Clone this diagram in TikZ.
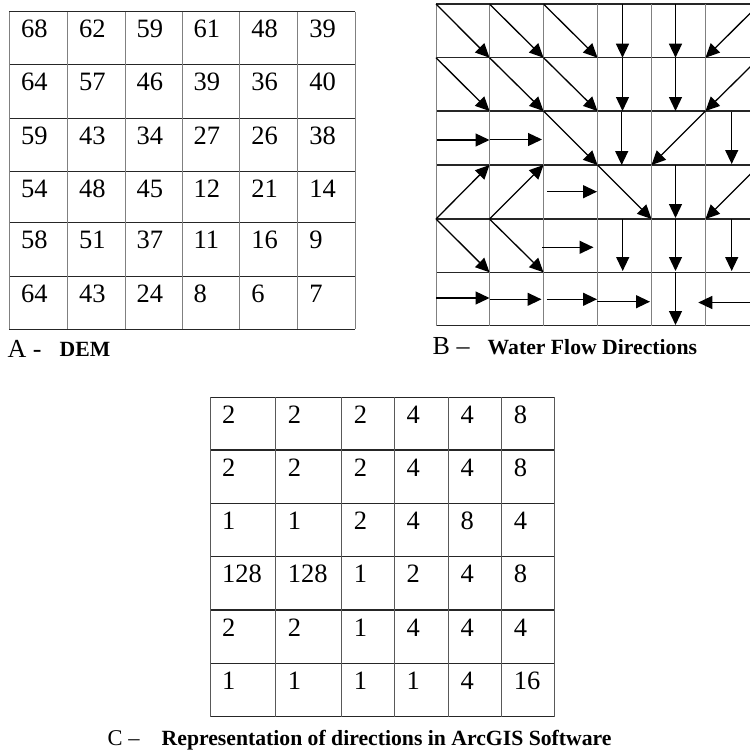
\documentclass[tikz,border=0pt]{standalone}
\usepackage{fontspec}
\setmainfont{Liberation Serif}
\usetikzlibrary{arrows.meta}
\begin{document}
\begin{tikzpicture}[x=1pt,y=-1pt,
  hline/.style={draw=black!85, line width=1.1pt},
  vline/.style={draw=black!50, line width=0.9pt},
  num/.style={anchor=base west, inner sep=0pt, font=\fontsize{26.5}{30}\selectfont},
  lbl/.style={anchor=base west, inner sep=0pt, font=\fontsize{26}{30}\selectfont},
  lblc/.style={anchor=base west, inner sep=0pt, font=\fontsize{22.5}{27}\selectfont},
  captxt/.style={anchor=base west, inner sep=0pt, font=\fontsize{21.7}{26}\selectfont\bfseries},
  flow/.style={line width=1.3pt, -{Triangle[length=14pt,width=13pt]}}]
\useasboundingbox (0,0) rectangle (750,753);

% ---------- Grid A : DEM ----------
\foreach \y in {11.7,64.3,118.3,171.7,222.7,276.3,329.3}
  \draw[hline] (9.3,\y) -- (355,\y);
\foreach \x in {9.3,67.3,125,182,239.7,297.7,355}
  \draw[vline] (\x,11.7) -- (\x,329.3);
\foreach \row [count=\r] in {{68,62,59,61,48,39},{64,57,46,39,36,40},{59,43,34,27,26,38},{54,48,45,12,21,14},{58,51,37,11,16,9},{64,43,24,8,6,7}} {
  \foreach \v [count=\c] in \row {
    \pgfmathsetmacro{\xx}{{9.3,67.3,125,182,239.7,297.7}[\c-1]+11.5}
    \pgfmathsetmacro{\yy}{{11.7,64.3,118.3,171.7,222.7,276.3}[\r-1]+26}
    \node[num] (a-\r-\c) at (\xx,\yy) {\v};
  }
}
\node[lbl] (labA) at (7.5,357) {A -};
\node[captxt] (capA) at (59.5,356) {DEM};

% ---------- Grid B : flow directions ----------
\foreach \y in {4,57.7,111,165,219,272.3,325.7}
  \draw[hline] (436,\y) -- (760,\y);
\foreach \x in {436,489.5,543.5,597.5,651.5,705.5}
  \draw[vline] (\x,4) -- (\x,325.7);
\foreach \yv [count=\i from 0] in {4,57.7,111,165,219,272.3,325.7}
  \foreach \xv [count=\j from 0] in {436,489.5,543.5,597.5,651.5,705.5,759.5}
    \coordinate (b-\i-\j) at (\xv,\yv);

% row 1
\draw[flow] (b-0-0) -- (b-1-1);
\draw[flow] (b-0-1) -- (b-1-2);
\draw[flow] (b-0-2) -- (b-1-3);
\draw[flow] (622.5,4) -- (622.5,57.7);
\draw[flow] (675.5,4) -- (675.5,57.7);
\draw[flow] (b-0-6) -- (b-1-5);
% row 2
\draw[flow] (b-1-0) -- (b-2-1);
\draw[flow] (b-1-1) -- (b-2-2);
\draw[flow] (b-1-2) -- (b-2-3);
\draw[flow] (622.5,57.7) -- (622.5,111);
\draw[flow] (675.5,57.7) -- (675.5,111);
\draw[flow] (b-1-6) -- (b-2-5);
% row 3
\draw[flow] (437,140) -- (489.5,140);
\draw[flow] (490,139.5) -- (542,139.5);
\draw[flow] (b-2-2) -- (b-3-3);
\draw[flow] (621.7,112) -- (621.7,165);
\draw[flow] (b-2-5) -- (b-3-4);
\draw[flow] (731.7,112) -- (731.7,164);
% row 4
\draw[flow] (b-4-0) -- (b-3-1);
\draw[flow] (b-4-1) -- (b-3-2);
\draw[flow] (547,191.7) -- (597,191.7);
\draw[flow] (b-3-3) -- (b-4-4);
\draw[flow] (675.5,165) -- (675.5,218);
\draw[flow] (b-3-6) -- (b-4-5);
% row 5
\draw[flow] (b-4-0) -- (b-5-1);
\draw[flow] (b-4-1) -- (b-5-2);
\draw[flow] (542,247.3) -- (593.5,247.3);
\draw[flow] (622.7,219) -- (622.7,271);
\draw[flow] (675.5,219) -- (675.5,271);
\draw[flow] (731.7,219) -- (731.7,271);
% row 6
\draw[flow] (436,298) -- (489.5,298);
\draw[flow] (489.5,299.3) -- (541.5,299.3);
\draw[flow] (546.7,299.3) -- (597,299.3);
\draw[flow] (597,301.7) -- (650,301.7);
\draw[flow] (675.5,272.3) -- (675.5,325);
\draw[flow] (762,302.5) -- (698.3,302.5);

\node[lbl] (labB) at (432.5,354) {B –};
\node[captxt] (capB) at (487.5,354) {Water Flow Directions};

% ---------- Grid C : ArcGIS codes ----------
\foreach \y in {397.3,450,503.3,556.7,610,663.3,716.7}
  \draw[hline] (210,\y) -- (554.3,\y);
\foreach \x in {210,275.7,341.7,394.3,448.3,501.7,554.3}
  \draw[vline, draw=black!65] (\x,397.3) -- (\x,716.7);
\foreach \row [count=\r] in {{2,2,2,4,4,8},{2,2,2,4,4,8},{1,1,2,4,8,4},{128,128,1,2,4,8},{2,2,1,4,4,4},{1,1,1,1,4,16}} {
  \foreach \v [count=\c] in \row {
    \pgfmathsetmacro{\xx}{{210,275.7,341.7,394.3,448.3,501.7}[\c-1]+12}
    \pgfmathsetmacro{\yy}{{397.3,450,503.3,556.7,610,663.3}[\r-1]+26}
    \node[num] (c-\r-\c) at (\xx,\yy) {\v};
  }
}
\node[lblc] (labC) at (107.5,745) {C –};
\node[captxt] (capC) at (161.5,745) {Representation of directions in ArcGIS Software};
\end{tikzpicture}
\end{document}
